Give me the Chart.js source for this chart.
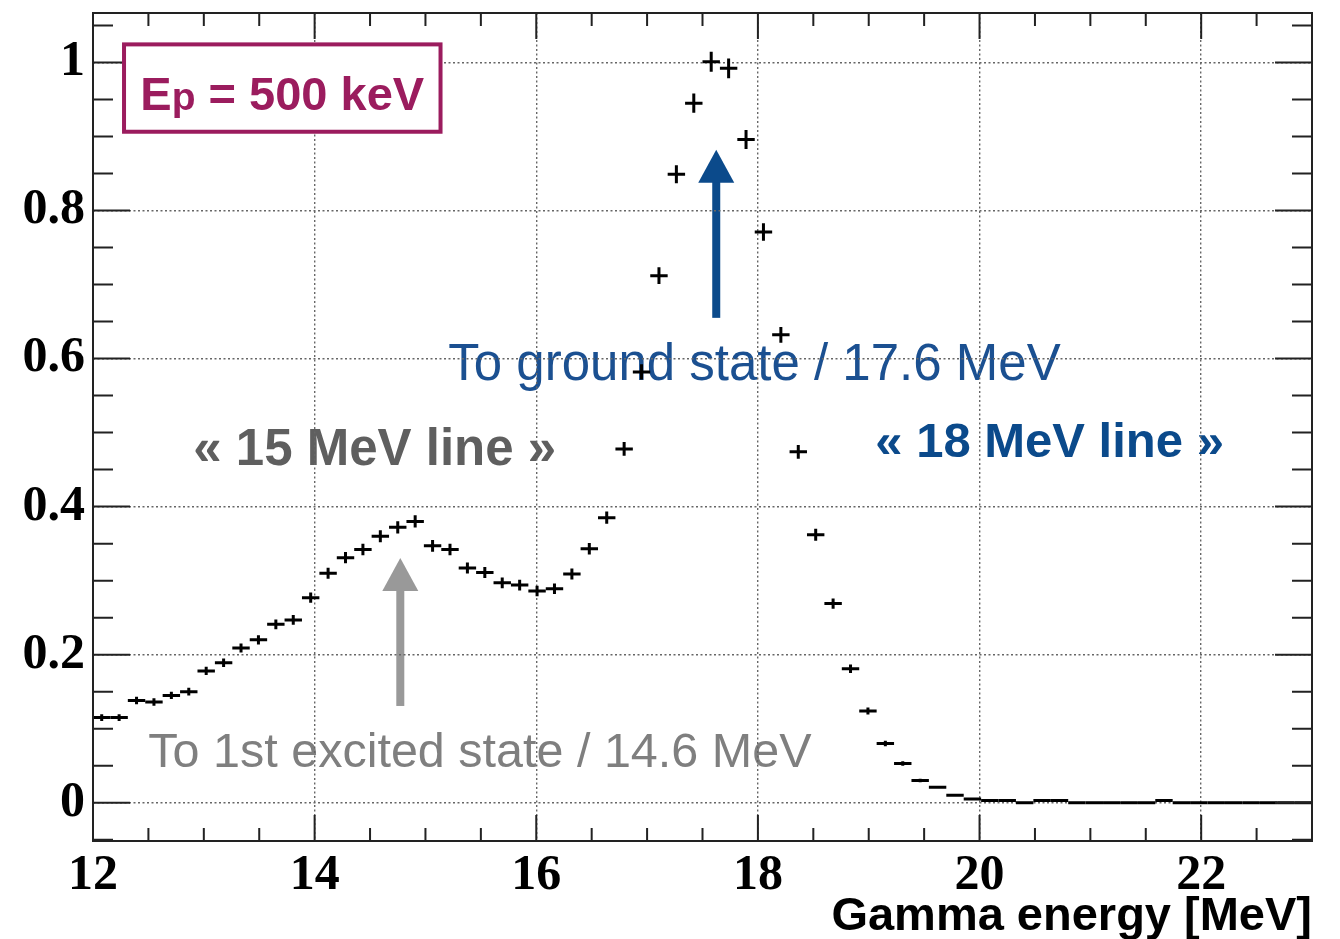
<!DOCTYPE html>
<html>
<head>
<meta charset="utf-8">
<script src="https://cdn.jsdelivr.net/npm/chart.js@4.4.1/dist/chart.umd.min.js"></script>
<style>
  html, body { margin: 0; padding: 0; background: #fff; }
  #wrap { width: 1340px; height: 939px; position: relative; }
</style>
</head>
<body>
<div id="wrap"><canvas id="chart"></canvas></div>
<script>
// histogram binning
const xMin = 12;
const xMax = 23;
const nBins = 70;

// normalised counts per bin
const counts = [
  0.115, 0.115, 0.138, 0.136, 0.145, 0.150, 0.178, 0.189, 0.209, 0.220,
  0.241, 0.247, 0.277, 0.310, 0.331, 0.342, 0.360, 0.372, 0.380, 0.347,
  0.342, 0.317, 0.311, 0.297, 0.294, 0.286, 0.289, 0.309, 0.343, 0.385,
  0.478, 0.582, 0.712, 0.849, 0.945, 1.001, 0.992, 0.896, 0.771, 0.632,
  0.474, 0.362, 0.269, 0.181, 0.124, 0.080, 0.053, 0.030, 0.021, 0.010,
  0.005, 0.003, 0.003, 0, 0.003, 0.003, 0, 0, 0, 0,
  0, 0.003, 0, 0, 0, 0, 0, 0, 0, 0
];

// statistical errors (half length of the vertical bars)
const errors = [
  0.0045, 0.0045, 0.0050, 0.0050, 0.0050, 0.0052, 0.0056, 0.0058, 0.0060, 0.0062,
  0.0065, 0.0066, 0.0070, 0.0074, 0.0076, 0.0078, 0.0080, 0.0082, 0.0082, 0.0080,
  0.0078, 0.0075, 0.0075, 0.0073, 0.0073, 0.0072, 0.0072, 0.0075, 0.0078, 0.0083,
  0.0092, 0.0102, 0.0112, 0.0122, 0.0130, 0.0135, 0.0134, 0.0128, 0.0118, 0.0107,
  0.0092, 0.0080, 0.0070, 0.0057, 0.0047, 0.0038, 0.0030, 0.0023, 0.0020, 0.0013,
  0.0010, 0.0008, 0.0008, 0, 0.0008, 0.0008, 0, 0, 0, 0,
  0, 0.0008, 0, 0, 0, 0, 0, 0, 0, 0
];

const xTickValues = [12, 14, 16, 18, 20, 22];
const xTickLabels = ["12", "14", "16", "18", "20", "22"];
const yTickValues = [0, 0.2, 0.4, 0.6, 0.8, 1];
const yTickLabels = ["0", "0.2", "0.4", "0.6", "0.8", "1"];
const yMin = -0.0517;
const yMax = 1.0668;

const binWidth = (xMax - xMin) / nBins;
const binCenters = counts.map((_, i) => xMin + (i + 0.5) * binWidth);

const serif = "'Liberation Serif', 'Times New Roman', serif";
const sans = "'Liberation Sans', Arial, Helvetica, sans-serif";

// text labels, anchored (left, baseline) in data coordinates
const notes = [
  { text: "« 15 MeV line »", x: 12.905, y: 0.4564, font: "bold 51px " + sans, color: "#5f5f5f" },
  { text: "« 18 MeV line »", x: 19.059, y: 0.4672, font: "bold 49px " + sans, color: "#0b4a8b" },
  { text: "To ground state / 17.6 MeV", x: 15.206, y: 0.5712, font: "51px " + sans, color: "#1b5091" },
  { text: "To 1st excited state / 14.6 MeV", x: 12.499, y: 0.0482, font: "48.5px " + sans, color: "#7f7f7f" }
];
const arrows = [
  { x: 17.624, from: 0.655, to: 0.882, color: "#0b4a8b" },
  { x: 14.773, from: 0.1307, to: 0.3307, color: "#999999" }
];

const annotations = {
  id: "annotations",
  beforeDraw(chart) {
    const { ctx, scales: { x, y } } = chart;
    ctx.save();
    ctx.textAlign = "left";
    ctx.textBaseline = "alphabetic";
    notes.forEach(n => {
      ctx.font = n.font;
      ctx.fillStyle = n.color;
      ctx.fillText(n.text, x.getPixelForValue(n.x), y.getPixelForValue(n.y));
    });
    arrows.forEach(a => {
      const px = x.getPixelForValue(a.x);
      const tail = y.getPixelForValue(a.from);
      const tip = y.getPixelForValue(a.to);
      const headH = 33, headW = 36, shaft = 8;
      ctx.fillStyle = a.color;
      ctx.fillRect(px - shaft / 2, tip + headH - 1, shaft, tail - tip - headH + 1);
      ctx.beginPath();
      ctx.moveTo(px, tip);
      ctx.lineTo(px + headW / 2, tip + headH);
      ctx.lineTo(px - headW / 2, tip + headH);
      ctx.closePath();
      ctx.fill();
    });
    ctx.restore();
  }
};

// ROOT style crosses: horizontal bar = bin width, vertical bar = error
const errorBars = {
  id: "errorBars",
  afterDatasetsDraw(chart) {
    const { ctx, scales: { x, y } } = chart;
    const meta = chart.getDatasetMeta(0);
    ctx.save();
    ctx.strokeStyle = "#000";
    ctx.lineWidth = 3;
    meta.data.forEach((pt, i) => {
      const x1 = x.getPixelForValue(binCenters[i] - binWidth / 2);
      const x2 = x.getPixelForValue(binCenters[i] + binWidth / 2);
      const yHi = y.getPixelForValue(counts[i] + errors[i]);
      const yLo = y.getPixelForValue(counts[i] - errors[i]);
      ctx.beginPath();
      ctx.moveTo(x1, pt.y);
      ctx.lineTo(x2, pt.y);
      if (yLo - yHi > 0.5) {
        ctx.moveTo(pt.x, yHi);
        ctx.lineTo(pt.x, yLo);
      }
      ctx.stroke();
    });
    ctx.restore();
  }
};

// frame with inward ticks on all four sides, plus the beam energy box
const frame = {
  id: "frame",
  afterDraw(chart) {
    const { ctx, chartArea: a, scales: { x, y } } = chart;
    ctx.save();
    ctx.strokeStyle = "#222";
    ctx.lineWidth = 2;
    ctx.beginPath();
    for (let v = 12.5; v < xMax; v += 0.5) {
      const px = x.getPixelForValue(v);
      const len = Number.isInteger(v / 2) ? 26 : 13;
      ctx.moveTo(px, a.bottom); ctx.lineTo(px, a.bottom - len);
      ctx.moveTo(px, a.top); ctx.lineTo(px, a.top + len);
    }
    for (let k = -1; k <= 21; k++) {
      const v = k * 0.05;
      const py = y.getPixelForValue(v);
      const len = k % 4 === 0 ? 37 : 20;
      ctx.moveTo(a.left, py); ctx.lineTo(a.left + len, py);
      ctx.moveTo(a.right, py); ctx.lineTo(a.right - len, py);
    }
    ctx.stroke();
    ctx.strokeRect(a.left, a.top, a.right - a.left, a.bottom - a.top);

    // Ep = 500 keV box
    const bx1 = x.getPixelForValue(12.28), bx2 = x.getPixelForValue(15.136);
    const by1 = y.getPixelForValue(1.0244), by2 = y.getPixelForValue(0.9064);
    ctx.fillStyle = "#fff";
    ctx.fillRect(bx1, by1, bx2 - bx1, by2 - by1);
    ctx.strokeStyle = "#9b1c5e";
    ctx.lineWidth = 4;
    ctx.strokeRect(bx1, by1, bx2 - bx1, by2 - by1);
    ctx.fillStyle = "#9b1c5e";
    ctx.textBaseline = "alphabetic";
    ctx.textAlign = "left";
    let tx = x.getPixelForValue(12.427);
    const ty = y.getPixelForValue(0.9361);
    ctx.font = "bold 47px " + sans;
    ctx.fillText("E", tx, ty);
    tx += ctx.measureText("E").width;
    ctx.font = "bold 39px " + sans;
    ctx.fillText("p", tx, ty);
    tx += ctx.measureText("p").width;
    ctx.font = "bold 47px " + sans;
    ctx.fillText(" = 500 keV", tx, ty);
    ctx.restore();
  }
};

new Chart(document.getElementById("chart"), {
  type: "scatter",
  data: {
    datasets: [{
      label: "spectrum",
      data: binCenters.map((e, i) => ({ x: e, y: counts[i] })),
      pointRadius: 0,
      showLine: false
    }]
  },
  options: {
    responsive: true,
    maintainAspectRatio: false,
    animation: false,
    events: [],
    layout: { padding: { left: 0, top: 13, right: 28, bottom: 0 } },
    plugins: { legend: { display: false }, tooltip: { enabled: false } },
    scales: {
      x: {
        type: "linear",
        min: xMin,
        max: xMax,
        afterBuildTicks: s => { s.ticks = xTickValues.map(v => ({ value: v })); },
        afterFit: s => { s.height = 98; s.paddingLeft = 0; s.paddingRight = 0; },
        grid: { color: "#666", lineWidth: 1.4, drawTicks: false },
        border: { display: false, dash: [2, 2.5] },
        ticks: {
          padding: 5,
          color: "#000",
          autoSkip: false,
          maxRotation: 0,
          font: { family: serif, size: 50, weight: "bold" },
          callback: (v, i) => xTickLabels[i]
        },
        title: {
          display: true,
          text: "Gamma energy [MeV]",
          align: "end",
          color: "#000",
          font: { family: sans, size: 47, weight: "bold", lineHeight: 0.8 },
          padding: { top: 0, bottom: 3 }
        }
      },
      y: {
        type: "linear",
        min: yMin,
        max: yMax,
        afterBuildTicks: s => { s.ticks = yTickValues.map(v => ({ value: v })); },
        afterFit: s => { s.width = 93; s.paddingTop = 0; s.paddingBottom = 0; },
        grid: { color: "#666", lineWidth: 1.4, drawTicks: false },
        border: { display: false, dash: [2, 2.5] },
        ticks: {
          padding: 8,
          color: "#000",
          font: { family: serif, size: 50, weight: "bold" },
          callback: (v, i) => yTickLabels[i]
        }
      }
    }
  },
  plugins: [annotations, errorBars, frame]
});
</script>
</body>
</html>
